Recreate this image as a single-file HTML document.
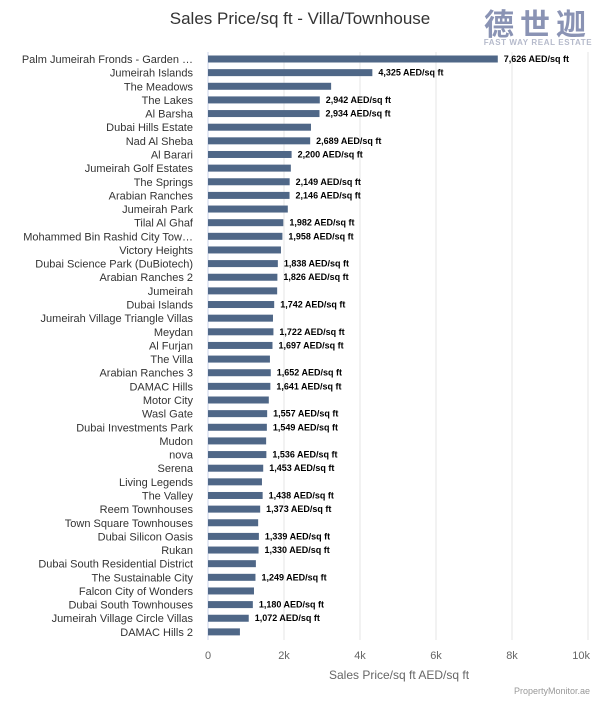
<!DOCTYPE html>
<html><head><meta charset="utf-8"><style>
body{margin:0;background:#fff;font-family:"Liberation Sans","Noto Sans CJK SC",sans-serif}
</style></head><body>
<svg id="c" width="600" height="700" xmlns="http://www.w3.org/2000/svg">
<text x="300" y="24" text-anchor="middle" font-size="17" fill="#333">Sales Price/sq ft - Villa/Townhouse</text>
<g>
<text x="538" y="35" text-anchor="middle" font-size="30" font-weight="bold" fill="#8a93b4" font-family="Noto Sans CJK SC,sans-serif" letter-spacing="6">德世迦</text>
<text x="538" y="45" text-anchor="middle" font-size="8" font-weight="bold" fill="#b5bacb" letter-spacing="0.6">FAST WAY REAL ESTATE</text>
</g>
<g id="grid"></g><g id="bars"></g>
<text x="399" y="679" text-anchor="middle" font-size="12" fill="#666">Sales Price/sq ft AED/sq ft</text>
<text x="590" y="694" text-anchor="end" font-size="9" fill="#999">PropertyMonitor.ae</text>
</svg>
<script>
const categories=["Palm Jumeirah Fronds - Garden …","Jumeirah Islands","The Meadows","The Lakes","Al Barsha","Dubai Hills Estate","Nad Al Sheba","Al Barari","Jumeirah Golf Estates","The Springs","Arabian Ranches","Jumeirah Park","Tilal Al Ghaf","Mohammed Bin Rashid City Tow…","Victory Heights","Dubai Science Park (DuBiotech)","Arabian Ranches 2","Jumeirah","Dubai Islands","Jumeirah Village Triangle Villas","Meydan","Al Furjan","The Villa","Arabian Ranches 3","DAMAC Hills","Motor City","Wasl Gate","Dubai Investments Park","Mudon","nova","Serena","Living Legends","The Valley","Reem Townhouses","Town Square Townhouses","Dubai Silicon Oasis","Rukan","Dubai South Residential District","The Sustainable City","Falcon City of Wonders","Dubai South Townhouses","Jumeirah Village Circle Villas","DAMAC Hills 2"];
const values=[7626,4325,3240,2942,2934,2710,2689,2200,2180,2149,2146,2100,1982,1958,1920,1838,1826,1820,1742,1710,1722,1697,1630,1652,1641,1600,1557,1549,1530,1536,1453,1420,1438,1373,1320,1339,1330,1260,1249,1210,1180,1072,840];
const showLabel=[1,1,0,1,1,0,1,1,0,1,1,0,1,1,0,1,1,0,1,0,1,1,0,1,1,0,1,1,0,1,1,0,1,1,0,1,1,0,1,0,1,1,0];
const ticks=[0,2000,4000,6000,8000,10000];
const tickLabels=["0","2k","4k","6k","8k","10k"];
const NS="http://www.w3.org/2000/svg";
const x=v=>208+v*0.038;
const y=i=>59+i*13.64;
const g=document.getElementById('grid'),b=document.getElementById('bars');
function mk(t,a,p){const e=document.createElementNS(NS,t);for(const k in a)e.setAttribute(k,a[k]);p.appendChild(e);return e;}
ticks.forEach((t,i)=>{
 const l=mk('line',{x1:x(t),x2:x(t),y1:52,y2:640,stroke:i?'#e6e6e6':'#ccd6eb','stroke-width':1},g);
 
 
 const last=i===ticks.length-1;
 const tx=mk('text',{x:last?590:x(t),y:659,'text-anchor':last?'end':'middle','font-size':11,fill:'#666'},g);
 tx.textContent=tickLabels[i];
 
 
});
categories.forEach((c,i)=>{
 const cy=y(i);
 const lt=mk('text',{x:193,y:cy+4,'text-anchor':'end','font-size':11,fill:'#333'},b);
 lt.textContent=c;
 
 
 const r=mk('rect',{x:208,y:cy-3.5,width:x(values[i])-208,height:7,fill:'#4f6787'},b);
 
 
 if(showLabel[i]){
  const v=mk('text',{x:x(values[i])+6,y:cy+3,'font-size':9,'font-weight':'bold',fill:'#000'},b);
  v.textContent=values[i].toLocaleString('en-US')+' AED/sq ft';
  
  
 }
});
</script>
</body></html>
